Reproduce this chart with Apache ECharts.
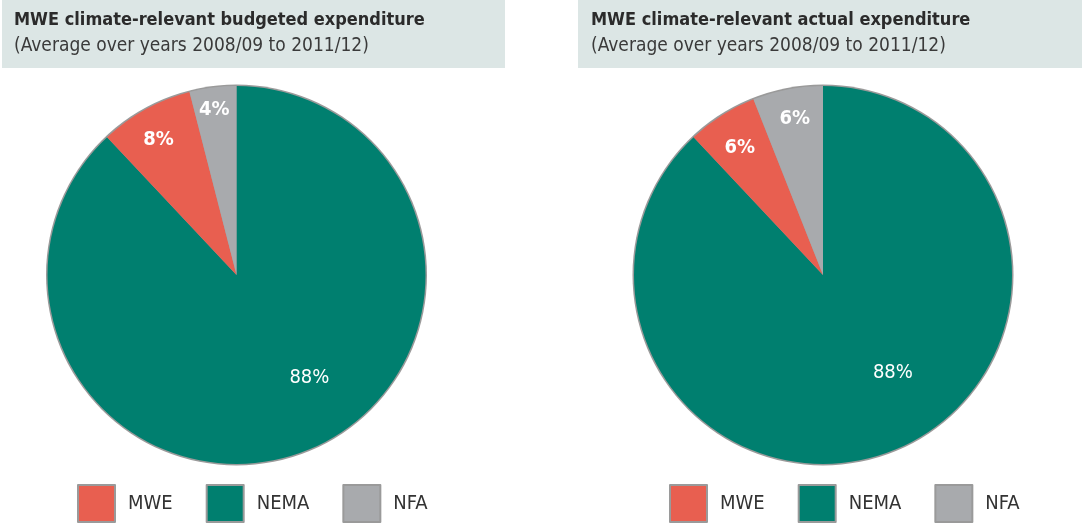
<!DOCTYPE html>
<html lang="en">
<head>
  <meta charset="UTF-8" />
  <title>MWE climate-relevant expenditure</title>
  <script src="https://cdn.jsdelivr.net/npm/echarts@6.0.0/dist/echarts.min.js"></script>
  <style>
    html, body { margin: 0; padding: 0; background: #fff; }
    #chart { width: 1082px; height: 530px; }
  </style>
</head>
<body>
  <div id="chart"></div>

  <script>
    // data
    const categories = ['NEMA', 'MWE', 'NFA'];
    const budgeted = [88, 8, 4];
    const actual = [88, 6, 6];
    const titles = ['MWE climate-relevant budgeted expenditure', 'MWE climate-relevant actual expenditure'];
    const subtitle = '(Average over years 2008/09 to 2011/12)';
    const legendNames = ['MWE', 'NEMA', 'NFA'];

    const colors = { NEMA: '#007f6f', MWE: '#e85f50', NFA: '#a8aaad' };
    const font = '"DejaVu Sans Condensed", "Liberation Sans Narrow", sans-serif';

    // hand-tuned label nudges so labels sit where the original has them
    const nudgeLeft = { NEMA: [37, 12], MWE: [-31, -50], NFA: [-10, -68] };
    const nudgeRight = { NEMA: [34, 7], MWE: [-31, -45], NFA: [-10, -60] };

    function pie(values, cx, nudge) {
      return {
        type: 'pie',
        center: [cx, 275],
        radius: 189,
        startAngle: 90,
        clockwise: true,
        animation: false,
        silent: true,
        label: {
          position: 'inside',
          color: '#fff',
          fontFamily: font,
          fontSize: 20,
          formatter: '{c}%'
        },
        labelLine: { show: false },
        itemStyle: { borderWidth: 0 },
        data: categories.map((c, i) => ({
          name: c,
          value: values[i],
          itemStyle: { color: colors[c] },
          label: { offset: nudge[c], fontWeight: c === 'NEMA' ? 'normal' : 'bold' }
        }))
      };
    }

    // thin grey ring behind each pie for the outline
    function ring(cx) {
      return {
        type: 'pie',
        center: [cx, 275],
        radius: 190.5,
        silent: true,
        animation: false,
        label: { show: false },
        z: 0,
        itemStyle: { color: '#9a9a9a' },
        data: [{ name: 'outline', value: 1 }]
      };
    }

    function legend(left) {
      return {
        data: legendNames,
        left: left,
        top: 484,
        padding: 0,
        itemWidth: 37,
        itemHeight: 37,
        itemGap: 33,
        icon: 'rect',
        selectedMode: false,
        itemStyle: { borderColor: '#9a9a9a', borderWidth: 2 },
        textStyle: { fontFamily: font, fontSize: 20, color: '#333', padding: [0, 0, 0, 8] }
      };
    }

    function title(text, left) {
      return {
        text: text, subtext: subtitle, left: left, top: 11, padding: 0, itemGap: 8,
        textStyle: { fontFamily: font, fontSize: 18, fontWeight: 'bold', color: '#2b2b2b' },
        subtextStyle: { fontFamily: font, fontSize: 19, color: '#3a3a3a' }
      };
    }

    const chart = echarts.init(document.getElementById('chart'));
    chart.setOption({
      backgroundColor: '#fff',
      graphic: [
        { type: 'rect', shape: { x: 2, y: 0, width: 503, height: 68 }, style: { fill: '#dce6e5' }, z: -1 },
        { type: 'rect', shape: { x: 578, y: 0, width: 504, height: 68 }, style: { fill: '#dce6e5' }, z: -1 }
      ],
      title: [title(titles[0], 14), title(titles[1], 591)],
      legend: [legend(77), legend(669)],
      series: [
        ring(236.5), pie(budgeted, 236.5, nudgeLeft),
        ring(823), pie(actual, 823, nudgeRight)
      ]
    });
  </script>
</body>
</html>
